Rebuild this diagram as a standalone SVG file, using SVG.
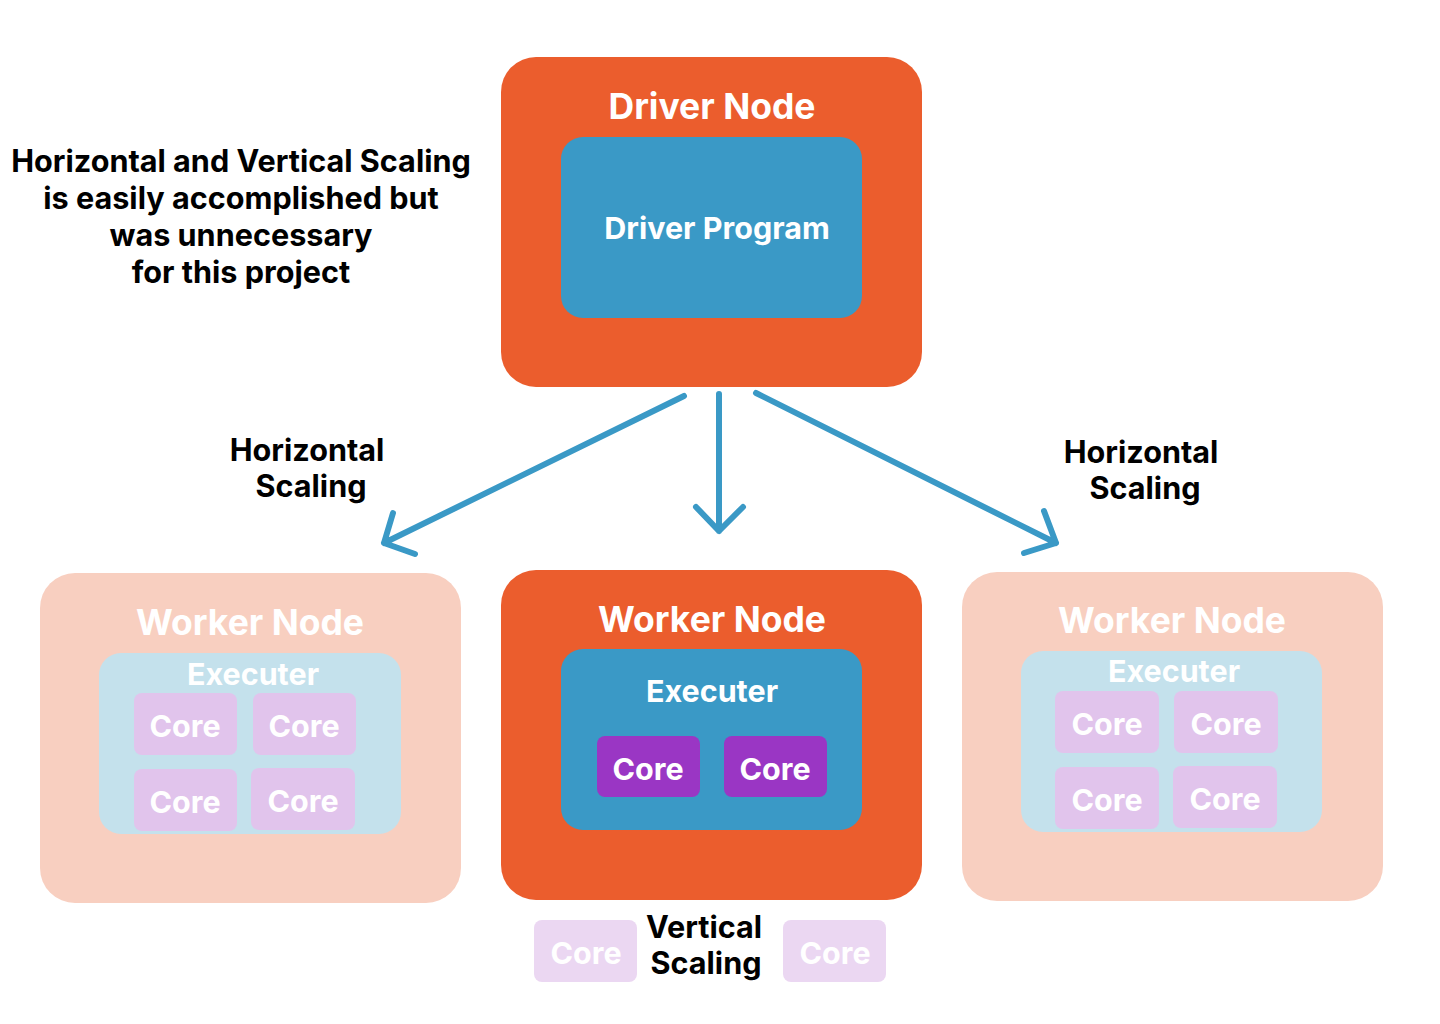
<svg xmlns="http://www.w3.org/2000/svg" width="1440" height="1024" viewBox="0 0 1440 1024">
<style>
text { font-family: Inter, "Liberation Sans", sans-serif; text-anchor: middle; font-weight: 700; }
.title { font-size: 35.5px; fill: #ffffff; }
.sub { font-size: 30.5px; fill: #ffffff; }
.core { font-size: 30.5px; fill: #ffffff; }
.label { font-size: 30.6px; fill: #000000; }
.orange { fill: #EB5D2D; }
.blue { fill: #3A99C6; }
.purple { fill: #9A36C4; }
.porange { fill: #F8CFC0; }
.pblue { fill: #C4E1EC; }
.ppurple { fill: #E1C4EC; }
.gpurple { fill: #EBD7F2; }
.conn { stroke: #3A99C6; stroke-width: 6; fill: none; stroke-linecap: round; stroke-linejoin: round; }
</style>
<rect width="1440" height="1024" fill="#ffffff"/>

<g id="note">
<text class="label" x="241" y="172">Horizontal and Vertical Scaling</text>
<text class="label" x="241" y="209">is easily accomplished but</text>
<text class="label" x="241" y="246">was unnecessary</text>
<text class="label" x="241" y="283">for this project</text>
</g>

<g id="driver-node">
<rect class="orange" x="501" y="57" width="421" height="330" rx="35"/>
<text class="title" x="712" y="119">Driver Node</text>
<rect class="blue" x="561" y="137" width="301" height="181" rx="22"/>
<text class="sub" x="717" y="239">Driver Program</text>
</g>

<g id="connectors">
<path class="conn" d="M684 396 L384 543 M393 513 L384 543 L415 554"/>
<path class="conn" d="M719 394 L719 531 M696 507 L719 531 L743 507"/>
<path class="conn" d="M756 393 L1056 543 M1044 511 L1056 543 L1024 553"/>
</g>

<g id="label-h-left">
<text class="label" x="307" y="461">Horizontal</text>
<text class="label" x="311" y="497">Scaling</text>
</g>
<g id="label-h-right">
<text class="label" x="1141" y="463">Horizontal</text>
<text class="label" x="1145" y="499">Scaling</text>
</g>

<g id="worker-left">
<rect class="porange" x="40" y="573" width="421" height="330" rx="35"/>
<text class="title" x="250" y="635">Worker Node</text>
<rect class="pblue" x="99" y="653" width="302" height="181" rx="22"/>
<text class="sub" x="253" y="685">Executer</text>
<rect class="ppurple" x="134" y="693" width="103" height="62" rx="8"/>
<text class="core" x="185" y="737">Core</text>
<rect class="ppurple" x="253" y="693" width="103" height="62" rx="8"/>
<text class="core" x="304" y="737">Core</text>
<rect class="ppurple" x="134" y="769" width="103" height="62" rx="8"/>
<text class="core" x="185" y="813">Core</text>
<rect class="ppurple" x="251" y="768" width="104" height="62" rx="8"/>
<text class="core" x="303" y="812">Core</text>
</g>

<g id="worker-center">
<rect class="orange" x="501" y="570" width="421" height="330" rx="35"/>
<text class="title" x="712" y="632">Worker Node</text>
<rect class="blue" x="561" y="649" width="301" height="181" rx="22"/>
<text class="sub" x="712" y="702">Executer</text>
<rect class="purple" x="597" y="736" width="103" height="61" rx="8"/>
<text class="core" x="648" y="780">Core</text>
<rect class="purple" x="724" y="736" width="103" height="61" rx="8"/>
<text class="core" x="775" y="780">Core</text>
</g>

<g id="vertical-scaling">
<rect class="gpurple" x="534" y="920" width="103" height="62" rx="8"/>
<text class="core" x="586" y="964">Core</text>
<rect class="gpurple" x="783" y="920" width="103" height="62" rx="8"/>
<text class="core" x="835" y="964">Core</text>
<text class="label" x="704" y="938">Vertical</text>
<text class="label" x="706" y="974">Scaling</text>
</g>

<g id="worker-right">
<rect class="porange" x="962" y="572" width="421" height="329" rx="35"/>
<text class="title" x="1172" y="633">Worker Node</text>
<rect class="pblue" x="1021" y="651" width="301" height="181" rx="22"/>
<text class="sub" x="1174" y="682">Executer</text>
<rect class="ppurple" x="1055" y="691" width="104" height="62" rx="8"/>
<text class="core" x="1107" y="735">Core</text>
<rect class="ppurple" x="1174" y="691" width="104" height="62" rx="8"/>
<text class="core" x="1226" y="735">Core</text>
<rect class="ppurple" x="1055" y="767" width="104" height="62" rx="8"/>
<text class="core" x="1107" y="811">Core</text>
<rect class="ppurple" x="1173" y="766" width="104" height="62" rx="8"/>
<text class="core" x="1225" y="810">Core</text>
</g>
</svg>
